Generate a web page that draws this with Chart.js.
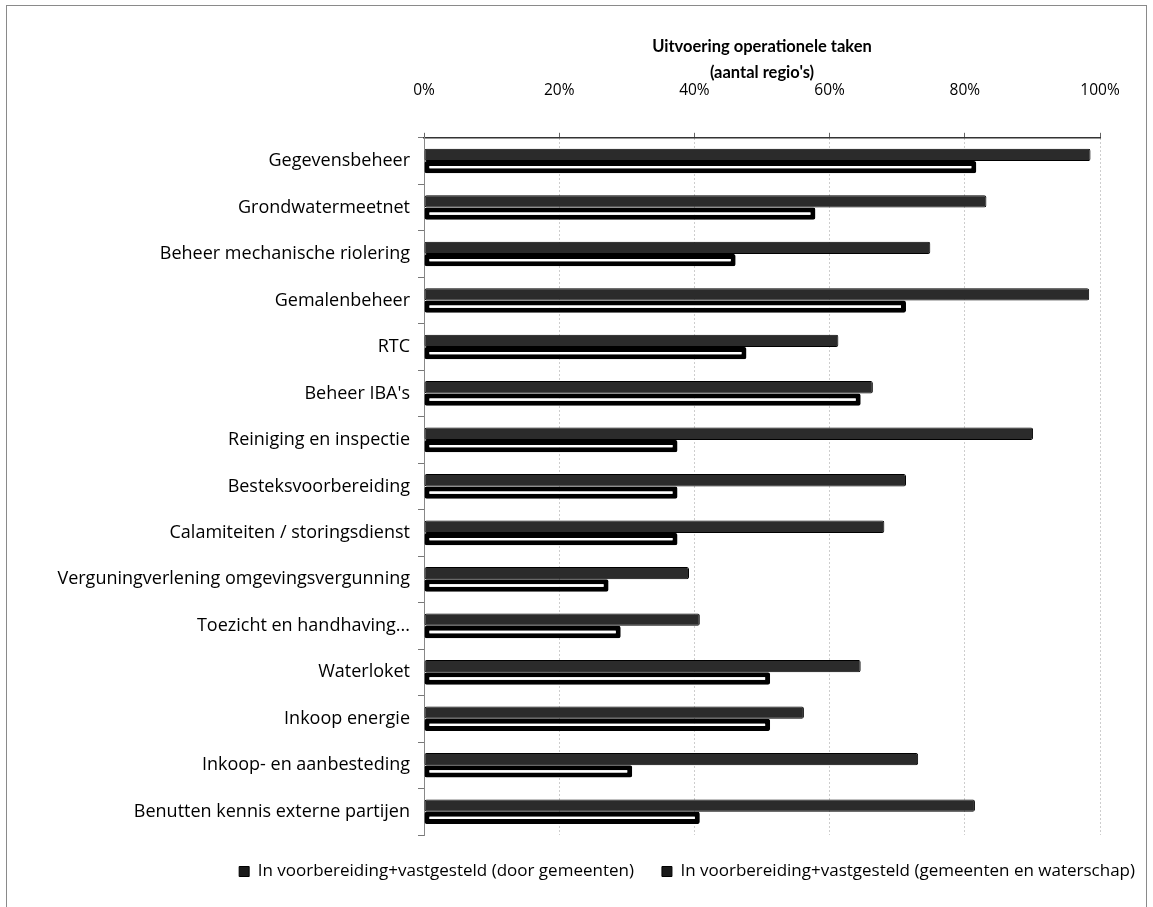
<!DOCTYPE html>
<html>
<head>
<meta charset="utf-8">
<script src="https://cdn.jsdelivr.net/npm/chart.js@4"></script>
<style>
  html,body{margin:0;padding:0;background:#fff;}
  #wrap{position:relative;width:1153px;height:907px;}
  #frame{position:absolute;left:6px;top:5px;width:1141px;height:940px;border:1px solid #8a8a8a;box-sizing:border-box;pointer-events:none;}
  canvas{position:absolute;left:0;top:0;}
</style>
</head>
<body>
<div id="wrap">
  <canvas id="c" width="1153" height="907"></canvas>
  <div id="frame"></div>
</div>
<script>
const categories = [
  "Gegevensbeheer",
  "Grondwatermeetnet",
  "Beheer mechanische riolering",
  "Gemalenbeheer",
  "RTC",
  "Beheer IBA's",
  "Reiniging en inspectie",
  "Besteksvoorbereiding",
  "Calamiteiten / storingsdienst",
  "Verguningverlening omgevingsvergunning",
  "Toezicht en handhaving...",
  "Waterloket",
  "Inkoop energie",
  "Inkoop- en aanbesteding",
  "Benutten kennis externe partijen"
];
const seriesNames = [
  "In voorbereiding+vastgesteld (door gemeenten)",
  "In voorbereiding+vastgesteld (gemeenten en waterschap)"
];
const doorGemeenten = [81.7, 57.9, 46.1, 71.3, 47.7, 64.6, 37.5, 37.5, 37.5, 27.3, 29.1, 51.2, 51.2, 30.8, 40.8];
const gemeentenEnWaterschap = [98.6, 83.2, 74.9, 98.4, 61.3, 66.4, 90.1, 71.3, 68.1, 39.2, 40.8, 64.6, 56.2, 73.1, 81.5];
const tickValues = [0, 20, 40, 60, 80, 100];
const titleLines = ["Uitvoering operationele taken", "(aantal regio's)"];

const SANS = "'Open Sans', Lato, sans-serif";
const TITLEFONT = "Lato, 'Open Sans', sans-serif";

new Chart(document.getElementById('c'), {
  type: 'bar',
  data: {
    labels: categories,
    datasets: [
      {
        label: seriesNames[1],
        data: gemeentenEnWaterschap,
        backgroundColor: '#2b2b2b',
        borderColor: '#000',
        borderWidth: 1,
        borderSkipped: false,
        borderRadius: 2,
        categoryPercentage: 0.53,
        barPercentage: 1.0
      },
      {
        label: seriesNames[0],
        data: doorGemeenten,
        backgroundColor: '#ffffff',
        borderColor: '#000',
        borderWidth: 5,
        borderSkipped: false,
        borderRadius: 2,
        categoryPercentage: 0.53,
        barPercentage: 1.0
      }
    ]
  },
  options: {
    responsive: false,
    animation: false,
    indexAxis: 'y',
    layout: { padding: { left: 8, right: -10, top: 33, bottom: 17 } },
    plugins: {
      title: {
        display: true,
        text: titleLines,
        fullSize: false,
        color: '#000',
        font: { family: TITLEFONT, size: 16.5, weight: 'bold', lineHeight: 1.6 },
        padding: { top: 0, bottom: -12 }
      },
      legend: {
        position: 'bottom',
        align: 'end',
        reverse: true,
        labels: {
          color: '#000',
          font: { family: SANS, size: 17 },
          boxWidth: 10,
          boxHeight: 10,
          padding: 28,
          generateLabels: (chart) => {
            const items = Chart.defaults.plugins.legend.labels.generateLabels(chart);
            items.forEach(it => { it.lineWidth = 1; it.fillStyle = '#1a1a1a'; it.strokeStyle = '#000'; });
            return items;
          }
        }
      },
      tooltip: { enabled: false }
    },
    scales: {
      x: {
        position: 'top',
        min: 0,
        max: 100,
        afterBuildTicks: (s) => { s.ticks = tickValues.map(v => ({ value: v })); },
        ticks: {
          color: '#000',
          font: { family: SANS, size: 15.5 },
          padding: 33,
          callback: (v) => v + '%'
        },
        grid: {
          color: '#9a9a9a',
          lineWidth: 1,
          tickLength: 5,
          tickColor: '#666'
        },
        border: { display: true, color: '#333', width: 1.5, dash: [1, 3] },
        afterFit: (s) => { s.height = 64; }
      },
      y: {
        ticks: {
          color: '#000',
          font: { family: SANS, size: 18 },
          padding: 8,
          autoSkip: false
        },
        grid: {
          drawOnChartArea: false,
          tickLength: 6,
          color: '#777'
        },
        border: { display: true, color: '#888', width: 1, dash: [1, 2] },
        afterFit: (s) => { s.width = 416; }
      },
      spacer: {
        type: 'linear',
        position: 'right',
        display: true,
        ticks: { display: false },
        grid: { display: false, drawTicks: false },
        border: { display: false },
        afterFit: (s) => { s.width = 63; }
      }
    }
  }
});
</script>
</body>
</html>
